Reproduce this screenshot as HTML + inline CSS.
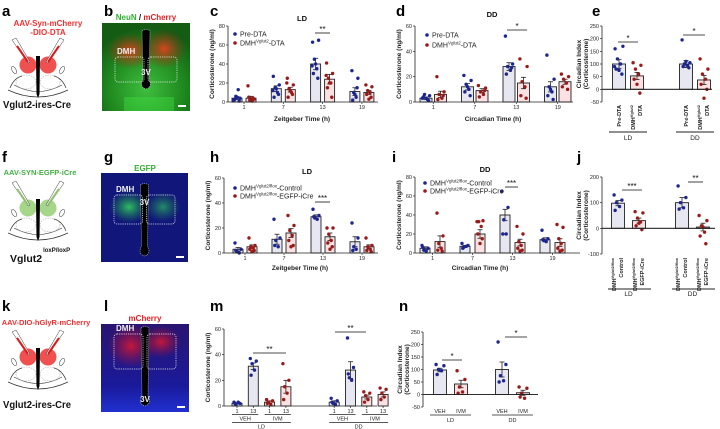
<!DOCTYPE html>
<html><head><meta charset="utf-8">
<style>
html,body{margin:0;padding:0;background:#fff;}
svg{display:block;font-family:"Liberation Sans",Arial,sans-serif;}
.pl{font-size:15px;font-weight:bold;fill:#000;}
.tk{font-size:5.5px;fill:#222;}
.at{font-size:6.5px;font-weight:bold;fill:#222;}
.tt{font-size:7.5px;font-weight:bold;fill:#111;}
.lg{font-size:7px;fill:#222;}
.st{font-size:8px;fill:#111;}
</style></head>
<body>
<svg id="fig" width="720" height="429" viewBox="0 0 720 429" xmlns="http://www.w3.org/2000/svg">
<defs>
<radialGradient id="gGreen" cx="50%" cy="75%" r="70%"><stop offset="0" stop-color="#3fbf3f"/><stop offset="0.6" stop-color="#1f8a1f"/><stop offset="1" stop-color="#145c14"/></radialGradient>
<radialGradient id="gRedL" cx="50%" cy="50%" r="50%"><stop offset="0" stop-color="#e0441e" stop-opacity="0.95"/><stop offset="1" stop-color="#a02010" stop-opacity="0"/></radialGradient>
<radialGradient id="gGfp" cx="50%" cy="50%" r="50%"><stop offset="0" stop-color="#30d060" stop-opacity="0.9"/><stop offset="1" stop-color="#20a040" stop-opacity="0"/></radialGradient>
<radialGradient id="gMch" cx="50%" cy="50%" r="50%"><stop offset="0" stop-color="#e01830" stop-opacity="0.85"/><stop offset="1" stop-color="#b01030" stop-opacity="0"/></radialGradient>
<linearGradient id="gBlue" x1="0" y1="0" x2="0" y2="1"><stop offset="0" stop-color="#2a1470"/><stop offset="0.7" stop-color="#1a1a9a"/><stop offset="1" stop-color="#2030d0"/></linearGradient>
</defs>

<text class="pl" x="2" y="16">a</text>
<text class="pl" x="104" y="16">b</text>
<text class="pl" x="210" y="16">c</text>
<text class="pl" x="396" y="16">d</text>
<text class="pl" x="592" y="16">e</text>
<text class="pl" x="2" y="162">f</text>
<text class="pl" x="104" y="162">g</text>
<text class="pl" x="210" y="162">h</text>
<text class="pl" x="392" y="162">i</text>
<text class="pl" x="577" y="162">j</text>
<text class="pl" x="2" y="311">k</text>
<text class="pl" x="104" y="311">l</text>
<text class="pl" x="210" y="311">m</text>
<text class="pl" x="399" y="311">n</text>

<text x="48" y="26" text-anchor="middle" font-size="8" font-weight="bold" fill="#f03030">AAV-Syn-mCherry</text>
<text x="48" y="35" text-anchor="middle" font-size="8" font-weight="bold" fill="#f03030">-DIO-DTA</text>
<text x="3" y="108" font-size="10.5" font-weight="bold" fill="#111" textLength="68" lengthAdjust="spacingAndGlyphs">Vglut2-ires-Cre</text>
<text x="40" y="175" text-anchor="middle" font-size="7.5" font-weight="bold" fill="#40b040">AAV-SYN-EGFP-iCre</text>
<text x="10" y="262" font-size="10.5" font-weight="bold" fill="#111">Vglut2<tspan font-size="6" dy="-10" dx="1">loxP/loxP</tspan></text>
<text x="46" y="325" text-anchor="middle" font-size="7.5" font-weight="bold" fill="#f03030">AAV-DIO-hGlyR-mCherry</text>
<text x="3" y="408" font-size="10.5" font-weight="bold" fill="#111" textLength="68" lengthAdjust="spacingAndGlyphs">Vglut2-ires-Cre</text>

<text x="146" y="20" text-anchor="middle" font-size="8" font-weight="bold"><tspan fill="#30b030">NeuN</tspan><tspan fill="#111"> / </tspan><tspan fill="#e02020">mCherry</tspan></text>
<text x="145" y="171" text-anchor="middle" font-size="8" font-weight="bold" fill="#30b030">EGFP</text>
<text x="145" y="321" text-anchor="middle" font-size="8" font-weight="bold" fill="#e02020">mCherry</text>

<g id="schem"></g>
<g id="micro"></g>
<g id="charts"></g>
</svg>

<script>
// ===== DATA =====
const cCategories = ['1','7','13','19'];
const cBlue = [4, 14, 40, 11];
const cRed = [4, 13, 24, 10];
const cBlueErr = [1.5, 3, 6, 4];
const cRedErr = [2, 2.5, 5, 2];
const cBluePts = [[2,4,6,13,3,1,5,2],[27,18,15,10,5,8,14,12],[63,65,45,35,30,25,40,38],[33,25,10,5,2,15,8]];
const cRedPts = [[17,3,2,1,5,4,2],[25,18,14,10,5,8,12,20],[41,30,25,20,15,5,20,28],[18,16,12,10,8,5,3]];
const cTicks = [0,20,40,60,80];
const dCategories = ['1','7','13','19'];
const dBlue = [3, 12, 28, 12];
const dRed = [6, 9, 15, 16];
const dBlueErr = [1, 2.5, 3, 4];
const dRedErr = [2.5, 1.5, 4.5, 2];
const dBluePts = [[3,5,6,2,4,1,3],[21,17,14,10,8,5,12],[52,30,28,25,22,27],[37,18,12,8,5,2,10]];
const dRedPts = [[20,8,6,3,2,5],[13,11,8,6,4,9],[34,28,16,12,5,3],[22,20,18,15,12,10]];
const dTicks = [0,20,40,60];
const eCategories = ['LD','DD'];
const eBlue = [100, 100];
const eRed = [53, 37];
const eBlueErr = [17, 14];
const eRedErr = [14, 18];
const eBluePts = [[160,170,120,100,80,60,75,90],[195,105,100,95,90,85,110]];
const eRedPts = [[105,95,80,60,40,-15,20],[120,80,60,40,20,0,-35]];
const eTicks = [-50,0,50,100,150,200,250];
const hCategories = ['1','7','13','19'];
const hBlue = [3, 11, 29, 9];
const hRed = [5, 16, 13, 5];
const hBlueErr = [1.5, 4, 1.5, 4];
const hRedErr = [1.5, 3.5, 3, 1.5];
const hBluePts = [[8,3,1,0,2],[27,12,10,5,6],[35,30,28,27,29],[24,12,5,3,2]];
const hRedPts = [[12,6,5,4,3,2,1],[30,22,18,14,10,6,5],[20,20,15,10,8,5,3],[12,6,5,3,2,1]];
const hTicks = [0,20,40,60];
const iCategories = ['1','7','13','19'];
const iBlue = [5, 7, 40, 14];
const iRed = [12, 20, 11, 11];
const iBlueErr = [1.5, 1, 6, 2];
const iRedErr = [6, 4.5, 3.5, 4];
const iBluePts = [[8,5,3,2,6],[10,8,6,7,5],[65,48,35,20,20],[24,15,13,12,14]];
const iRedPts = [[42,18,10,5,3,2],[33,34,33,28,20,15,10],[28,20,12,8,5,3,2],[30,27,15,10,5,3,2]];
const iTicks = [0,20,40,60,80];
const jCategories = ['LD','DD'];
const jBlue = [98, 100];
const jRed = [30, 5];
const jBlueErr = [10, 20];
const jRedErr = [10, 15];
const jBluePts = [[130,110,100,85,70],[165,120,100,80,75]];
const jRedPts = [[65,60,40,25,10,-5,20],[50,30,10,-15,-30,-60,5]];
const jTicks = [-100,0,100,200];
const mCategories = ['1','13','1','13','1','13','1','13'];
const mValues = [2, 31, 3, 15, 3, 28, 7, 9];
const mErr = [0.5, 2.5, 1, 5, 1, 6.5, 1.5, 2];
const mSeries = [0,0,1,1,0,0,1,1];
const mPts = [[3,2,1,3,2],[37,35,33,28,24],[5,4,3,1,2],[33,20,15,10,5],[6,4,2,1,3],[53,30,22,20,25],[11,10,8,5,3],[14,13,10,7,5]];
const mTicks = [0,20,40,60];
const nCategories = ['LD','DD'];
const nBlue = [98, 100];
const nRed = [42, 7];
const nBlueErr = [7, 30];
const nRedErr = [15, 10];
const nBluePts = [[120,115,100,95,80],[210,120,75,55,50]];
const nRedPts = [[95,60,30,10,5],[30,25,5,-15,-10]];
const nTicks = [-50,0,50,100,150,200,250];

// ===== DRAWING =====
const NS = 'http://www.w3.org/2000/svg';
function mk(tag, attrs, parent){
  const e = document.createElementNS(NS, tag);
  for (const k in attrs) e.setAttribute(k, attrs[k]);
  if (parent) parent.appendChild(e);
  return e;
}
const FILL = ['#e6e7f0', '#fbe1e1'];
const DOT = ['#1c2590', '#9a1a1a'];
const JIT = [-3, 3, -1.2, 1.2, -2.2, 2.2, 0, -3.5, 3.5];

function drawPanel(cfg){
  const g = mk('g', {}, document.getElementById('charts'));
  
  
  const y = v => cfg.yBot - (v - cfg.vmin) / (cfg.vmax - cfg.vmin) * (cfg.yBot - cfg.yTop);
  const ax = mk('line', {x1:cfg.x0, y1:cfg.yTop, x2:cfg.x0, y2:cfg.yBot, stroke:'#222', 'stroke-width':0.8}, g);
  
  
  cfg.ticks.forEach(t => {
    mk('line', {x1:cfg.x0-2, y1:y(t), x2:cfg.x0, y2:y(t), stroke:'#222', 'stroke-width':0.7}, g);
    const tl = mk('text', {x:cfg.x0-3, y:y(t)+2, 'text-anchor':'end', class:'tk'}, g);
    tl.textContent = t;
    
    
  });
  cfg.bars.forEach(b => {
    const cx = b.x;
    const y0 = y(0), yv = y(b.v);
    const r = mk('rect', {x:cx-cfg.bw/2, y:Math.min(y0,yv), width:cfg.bw, height:Math.abs(y0-yv), fill:FILL[b.s], stroke:'#222', 'stroke-width':0.9}, g);
    
    
    mk('line', {x1:cx, y1:y(b.v+b.e), x2:cx, y2:y(b.v-b.e), stroke:'#222', 'stroke-width':0.8}, g);
    mk('line', {x1:cx-2.5, y1:y(b.v+b.e), x2:cx+2.5, y2:y(b.v+b.e), stroke:'#222', 'stroke-width':0.8}, g);
    mk('line', {x1:cx-2.5, y1:y(b.v-b.e), x2:cx+2.5, y2:y(b.v-b.e), stroke:'#222', 'stroke-width':0.8}, g);
    b.p.forEach((pv, k) => {
      const d = mk('circle', {cx:cx + JIT[k % JIT.length]*cfg.bw/10, cy:y(pv), r:1.7, fill:DOT[b.s]}, g);
      
      
    });
  });
  const xl = mk('line', {x1:cfg.x0, y1:y(Math.max(0,cfg.vmin)), x2:cfg.x1, y2:y(Math.max(0,cfg.vmin)), stroke:'#222', 'stroke-width':0.8}, g);
  
  
  if (cfg.vmin < 0) mk('line', {x1:cfg.x0, y1:y(0), x2:cfg.x1, y2:y(0), stroke:'#222', 'stroke-width':0.8}, g);
  if (cfg.xTicks) cfg.xTicks.forEach(t => {
    mk('line', {x1:t.x, y1:cfg.yBot, x2:t.x, y2:cfg.yBot+2, stroke:'#222', 'stroke-width':0.7}, g);
    const tl = mk('text', {x:t.x, y:cfg.yBot+7, 'text-anchor':'middle', class:'tk'}, g);
    tl.textContent = t.label;
    
    
  });
  (cfg.sig||[]).forEach(s => {
    mk('line', {x1:s.x1, y1:s.y, x2:s.x2, y2:s.y, stroke:'#111', 'stroke-width':0.8}, g);
    const st = mk('text', {x:(s.x1+s.x2)/2, y:s.y-1, 'text-anchor':'middle', class:'st'}, g);
    st.textContent = s.t;
    
    
  });
  (cfg.yTitle||[]).forEach((t, k) => {
    const cy = (cfg.yTop + cfg.yBot)/2;
    const tx = cfg.x0 - 14 - (cfg.yTitle.length-1-k)*7;
    const yt = mk('text', {x:tx, y:cy, 'text-anchor':'middle', class:'at', transform:`rotate(-90 ${tx} ${cy})`}, g);
    yt.textContent = t;
    
    
  });
  if (cfg.xTitle){
    const xt = mk('text', {x:cfg.xTitle.x, y:cfg.xTitle.y, 'text-anchor':'middle', class:'at'}, g);
    xt.textContent = cfg.xTitle.t;
    
    
  }
  if (cfg.title){
    const tt = mk('text', {x:cfg.title.x, y:cfg.title.y, 'text-anchor':'middle', class:'tt'}, g);
    tt.textContent = cfg.title.t;
    
    
  }
  if (cfg.legend){
    cfg.legend.forEach((L, k) => {
      const ly = cfg.legend.y0 + k*cfg.legend.dy;
      const d = mk('circle', {cx:cfg.legend.x, cy:ly, r:1.8, fill:DOT[k]}, g);
      
      
      const lt = mk('text', {x:cfg.legend.x+5, y:ly+2.5, class:'lg'}, g);
      
      
      lt.appendChild(document.createTextNode(L[0]));
      if (L[1]){
        const sp = mk('tspan', {'font-size':4.5, dy:-3}, lt); sp.textContent = L[1];
        const s2 = mk('tspan', {dy:3}, lt); s2.textContent = L[2];
      }
    });
  }
  return y;
}

function groupedBars(blue, red, be, re, bp, rp, xf){
  const out = [];
  blue.forEach((v,i)=> out.push({x:xf(i,0), v:v, e:be[i], p:bp[i], s:0, name:'bar-blue-'+i}));
  red.forEach((v,i)=> out.push({x:xf(i,1), v:v, e:re[i], p:rp[i], s:1, name:'bar-red-'+i}));
  return out;
}

const cx = (i,s) => 237 + i*39.3 + s*14;
drawPanel({name:'chart-c-ld', x0:228, x1:378, yTop:26, yBot:102, vmin:0, vmax:80, ticks:cTicks, bw:10,
  bars:groupedBars(cBlue,cRed,cBlueErr,cRedErr,cBluePts,cRedPts,cx),
  xTicks:cCategories.map((c,i)=>({x:cx(i,0.5), label:c})),
  sig:[{x1:315,x2:330,y:33,t:'**'}], yTitle:['Corticosterone (ng/ml)'],
  xTitle:{x:302,y:121,t:'Zeitgeber Time (h)'}, title:{x:302,y:21,t:'LD'},
  legend:Object.assign([['Pre-DTA'],['DMH','Vglut2','-DTA']],{x:235,y0:34,dy:9})});
const dx = (i,s) => 426 + i*41.5 + s*14.5;
drawPanel({name:'chart-d-dd', x0:415, x1:573, yTop:26, yBot:102, vmin:0, vmax:60, ticks:dTicks, bw:12,
  bars:groupedBars(dBlue,dRed,dBlueErr,dRedErr,dBluePts,dRedPts,dx),
  xTicks:dCategories.map((c,i)=>({x:dx(i,0.5), label:c})),
  sig:[{x1:507,x2:527,y:30,t:'*'}], yTitle:['Corticosterone (ng/ml)'],
  xTitle:{x:493,y:121,t:'Circadian Time (h)'}, title:{x:492,y:17,t:'DD'},
  legend:Object.assign([['Pre-DTA'],['DMH','Vglut2','-DTA']],{x:427,y0:35,dy:10})});
const ex = (i,s) => 619 + i*67 + s*18;
drawPanel({name:'chart-e-index', x0:602, x1:712, yTop:26, yBot:102, vmin:-50, vmax:250, ticks:eTicks, bw:13,
  bars:groupedBars(eBlue,eRed,eBlueErr,eRedErr,eBluePts,eRedPts,ex),
  sig:[{x1:618,x2:638,y:42,t:'*'},{x1:683,x2:705,y:35,t:'*'}], yTitle:['Circadian Index','(Corticosterone)']});
const hx = (i,s) => 238 + i*39 + s*14;
drawPanel({name:'chart-h-ld', x0:224, x1:378, yTop:178, yBot:253, vmin:0, vmax:60, ticks:hTicks, bw:10,
  bars:groupedBars(hBlue,hRed,hBlueErr,hRedErr,hBluePts,hRedPts,hx),
  xTicks:hCategories.map((c,i)=>({x:hx(i,0.5), label:c})),
  sig:[{x1:315,x2:330,y:202,t:'***'}], yTitle:['Corticosterone (ng/ml)'],
  xTitle:{x:300,y:270,t:'Zeitgeber Time (h)'}, title:{x:307,y:174,t:'LD'},
  legend:Object.assign([['DMH','Vglut2/flox','-Control'],['DMH','Vglut2/flox','-EGFP-iCre']],{x:235,y0:188,dy:8})});
const ix = (i,s) => 425 + i*40 + s*15;
drawPanel({name:'chart-i-dd', x0:415, x1:580, yTop:177, yBot:253, vmin:0, vmax:80, ticks:iTicks, bw:10,
  bars:groupedBars(iBlue,iRed,iBlueErr,iRedErr,iBluePts,iRedPts,ix),
  xTicks:iCategories.map((c,i)=>({x:ix(i,0.5), label:c})),
  sig:[{x1:505,x2:518,y:187,t:'***'}], yTitle:['Corticosterone (ng/ml)'],
  xTitle:{x:480,y:270,t:'Circadian Time (h)'}, title:{x:485,y:172,t:'DD'},
  legend:Object.assign([['DMH','Vglut2/flox','-Control'],['DMH','Vglut2/flox','-EGFP-iCre']],{x:425,y0:183,dy:8})});
const jx = (i,s) => 618 + i*64 + s*21;
drawPanel({name:'chart-j-index', x0:602, x1:715, yTop:177, yBot:254, vmin:-100, vmax:200, ticks:jTicks, bw:13,
  bars:groupedBars(jBlue,jRed,jBlueErr,jRedErr,jBluePts,jRedPts,jx),
  sig:[{x1:622,x2:642,y:190,t:'***'},{x1:688,x2:703,y:182,t:'**'}], yTitle:['Circadian Index','(Corticosterone)']});
const mx = i => 237 + i*16.3 + (i>=4 ? 32 : 0);
drawPanel({name:'chart-m-ivm', x0:224, x1:377, yTop:329, yBot:406, vmin:0, vmax:60, ticks:mTicks, bw:10,
  bars:mValues.map((v,i)=>({x:mx(i), v:v, e:mErr[i], p:mPts[i], s:mSeries[i], name:'bar-'+i})),
  xTicks:mCategories.map((c,i)=>({x:mx(i), label:c})),
  sig:[{x1:253,x2:286,y:353,t:'**'},{x1:335,x2:366,y:332,t:'**'}], yTitle:['Corticosterone (ng/ml)']});
const nx = (i,s) => 440 + i*62 + s*21;
drawPanel({name:'chart-n-index', x0:423, x1:538, yTop:332, yBot:407, vmin:-50, vmax:250, ticks:nTicks, bw:13,
  bars:groupedBars(nBlue,nRed,nBlueErr,nRedErr,nBluePts,nRedPts,nx),
  sig:[{x1:442,x2:462,y:360,t:'*'},{x1:505,x2:527,y:337,t:'*'}], yTitle:['Circadian Index','(Corticosterone)']});

const C = document.getElementById('charts');
function txt(x, y, s, attrs, name){
  const t = mk('text', Object.assign({x:x, y:y, 'font-size':5.5, fill:'#222'}, attrs||{}), C);
  t.textContent = s;
  
  
  return t;
}
function rot(x, y, s, name, sup){
  const t = mk('text', {x:x, y:y, 'font-size':5.5, 'font-weight':'bold', fill:'#222', 'text-anchor':'end', transform:`rotate(-90 ${x} ${y})`}, C);
  
  
  t.appendChild(document.createTextNode(s));
  if (sup){ const sp = mk('tspan', {'font-size':4, dy:-2}, t); sp.textContent = sup; }
  return t;
}
function hl(x1, x2, y, w){ mk('line', {x1:x1, y1:y, x2:x2, y2:y, stroke:'#222', 'stroke-width':w||1}, C); }
eCategories.forEach((c,i)=>{
  rot(ex(i,0)+2, 105, 'Pre-DTA', 'x-label-pre-dta');
  rot(ex(i,1)-2, 105, 'DMH', 'x-label-dmh-dta', 'Vglut2');
  rot(ex(i,1)+5, 105, 'DTA', 'x-label-dta');
  hl(ex(i,0)-10, ex(i,1)+10, 132);
  txt((ex(i,0)+ex(i,1))/2, 140, c, {'text-anchor':'middle','font-size':6.5}, 'group-label');
});
jCategories.forEach((c,i)=>{
  rot(jx(i,0)-2, 258, 'DMH', 'x-label-control', 'Vglut2/flox');
  rot(jx(i,0)+5, 258, 'Control', 'x-label-control');
  rot(jx(i,1)-2, 258, 'DMH', 'x-label-egfp', 'Vglut2/flox');
  rot(jx(i,1)+5, 258, 'EGFP-iCre', 'x-label-egfp');
  hl(jx(i,0)-10, jx(i,1)+12, 289);
  txt((jx(i,0)+jx(i,1))/2, 296, c, {'text-anchor':'middle','font-size':6.5}, 'group-label');
});
[0,2,4,6].forEach(i=>{
  hl(mx(i)-5, mx(i+1)+5, 414.5, 0.7);
  txt((mx(i)+mx(i+1))/2, 420.5, i%4===0?'VEH':'IVM', {'text-anchor':'middle'}, 'condition-label');
});
[0,4].forEach(i=>{
  hl(mx(i)-5, mx(i+3)+5, 422.5, 0.7);
  txt((mx(i)+mx(i+3))/2, 428.5, i===0?'LD':'DD', {'text-anchor':'middle'}, 'group-label');
});
nCategories.forEach((c,i)=>{
  txt(nx(i,0), 413, 'VEH', {'text-anchor':'middle'}, 'condition-label');
  txt(nx(i,1), 413, 'IVM', {'text-anchor':'middle'}, 'condition-label');
  hl(nx(i,0)-10, nx(i,1)+10, 415, 0.7);
  txt((nx(i,0)+nx(i,1))/2, 422, c, {'text-anchor':'middle'}, 'group-label');
});

const S = document.getElementById('schem');
function brain(dy, col, name){
  const g = mk('g', {transform:`translate(0 ${dy})`}, S);
  
  
  mk('path', {d:'M10 88 Q14 78 22 76 M66 88 Q62 78 54 76 M8 90 Q38 104 68 90', fill:'none', stroke:'#333', 'stroke-width':0.7}, g);
  mk('path', {d:'M14 85 Q38 98 62 85', fill:'none', stroke:'#333', 'stroke-width':0.6}, g);
  mk('ellipse', {cx:26, cy:82, rx:10, ry:7, fill:'none', stroke:'#999', 'stroke-width':0.5, 'stroke-dasharray':'1.5 1'}, g);
  mk('ellipse', {cx:50, cy:82, rx:10, ry:7, fill:'none', stroke:'#999', 'stroke-width':0.5, 'stroke-dasharray':'1.5 1'}, g);
  mk('ellipse', {cx:14, cy:70, rx:2, ry:4, fill:'none', stroke:'#333', 'stroke-width':0.5, transform:'rotate(-30 14 70)'}, g);
  mk('ellipse', {cx:62, cy:70, rx:2, ry:4, fill:'none', stroke:'#333', 'stroke-width':0.5, transform:'rotate(30 62 70)'}, g);
  mk('circle', {cx:28, cy:65, r:8.5, fill:col}, g);
  mk('circle', {cx:48, cy:65, r:8.5, fill:col}, g);
  mk('path', {d:'M36 56 L40 56 L39.5 94 L38 98 L36.5 94 Z', fill:'#000'}, g);
  mk('path', {d:'M12 40 L16 38 L30 62 L28 63 Z', fill:'#fff', stroke:'#333', 'stroke-width':0.5}, g);
  mk('path', {d:'M64 40 L60 38 L46 62 L48 63 Z', fill:'#fff', stroke:'#333', 'stroke-width':0.5}, g);
  mk('path', {d:'M17 46 L28 62 M59 46 L48 62', stroke:col==='#f05050'?'#e01818':'#8fc070', 'stroke-width':2}, g);
}
brain(0, '#f05050', 'injection-schematic-a');
brain(143, '#a6d68a', 'injection-schematic-f');
brain(292, '#f05050', 'injection-schematic-k');

const M = document.getElementById('micro');
function micro(x, y, w, h, kind, name){
  const g = mk('g', {}, M);
  
  
  if (kind==='b'){
    mk('rect', {x:x, y:y, width:w, height:h, fill:'url(#gGreen)'}, g);
    mk('ellipse', {cx:x+28, cy:y+28, rx:24, ry:18, fill:'url(#gRedL)'}, g);
    mk('ellipse', {cx:x+62, cy:y+26, rx:22, ry:20, fill:'url(#gRedL)'}, g);
    mk('rect', {x:x+22, y:y+h-14, width:50, height:14, fill:'#40e040', opacity:0.4}, g);
  } else if (kind==='g'){
    mk('rect', {x:x, y:y, width:w, height:h, fill:'#10167a'}, g);
    mk('ellipse', {cx:x+28, cy:y+34, rx:20, ry:16, fill:'url(#gGfp)'}, g);
    mk('ellipse', {cx:x+62, cy:y+34, rx:18, ry:15, fill:'url(#gGfp)', opacity:0.7}, g);
  } else {
    mk('rect', {x:x, y:y, width:w, height:h, fill:'url(#gBlue)'}, g);
    mk('ellipse', {cx:x+30, cy:y+22, rx:24, ry:22, fill:'url(#gMch)'}, g);
    mk('ellipse', {cx:x+60, cy:y+18, rx:20, ry:16, fill:'url(#gMch)'}, g);
  }
  const vTop = kind==='l' ? 4 : (kind==='g' ? 12 : 8);
  const vBot = kind==='b' ? h-24 : h-8;
  mk('path', {d:`M${x+w/2-4} ${y+vTop} Q${x+w/2} ${y+vTop-3} ${x+w/2+4} ${y+vTop} L${x+w/2+3} ${y+vBot-8} Q${x+w/2+7} ${y+vBot} ${x+w/2} ${y+vBot+2} Q${x+w/2-7} ${y+vBot} ${x+w/2-3} ${y+vBot-8} Z`, fill:'#000', stroke:'#ddd', 'stroke-width':0.6, 'stroke-dasharray':'1 1'}, g);
  const ry = kind==='l' ? y+10 : (kind==='g' ? y+22 : y+34);
  const rh = kind==='l' ? 35 : (kind==='g' ? 29 : 25);
  mk('rect', {x:x+13, y:ry, width:w/2-15, height:rh, rx:3, fill:'none', stroke:'#eee', 'stroke-width':0.7, 'stroke-dasharray':'1.2 1'}, g);
  mk('rect', {x:x+w/2+2, y:ry, width:w/2-15, height:rh, rx:3, fill:'none', stroke:'#eee', 'stroke-width':0.7, 'stroke-dasharray':'1.2 1'}, g);
  const t1 = mk('text', {x:x+15, y:ry-3, 'font-size':8, 'font-weight':'bold', fill:'#eee'}, g);
  t1.textContent = 'DMH';
  
  
  const t2 = mk('text', {x:x+w/2, y:kind==='l'? y+h-10 : (kind==='g'? ry+10 : ry+18), 'font-size':8, 'font-weight':'bold', fill:'#eee', 'text-anchor':'middle'}, g);
  t2.textContent = '3V';
  
  
  mk('rect', {x:x+w-12, y:y+h-6, width:8, height:2, fill:'#fff'}, g);
}
micro(102, 23, 88, 88, 'b', 'micrograph-b');
micro(101, 173, 87, 89, 'g', 'micrograph-g');
micro(101, 324, 88, 88, 'l', 'micrograph-l');
</script>
</body></html>
